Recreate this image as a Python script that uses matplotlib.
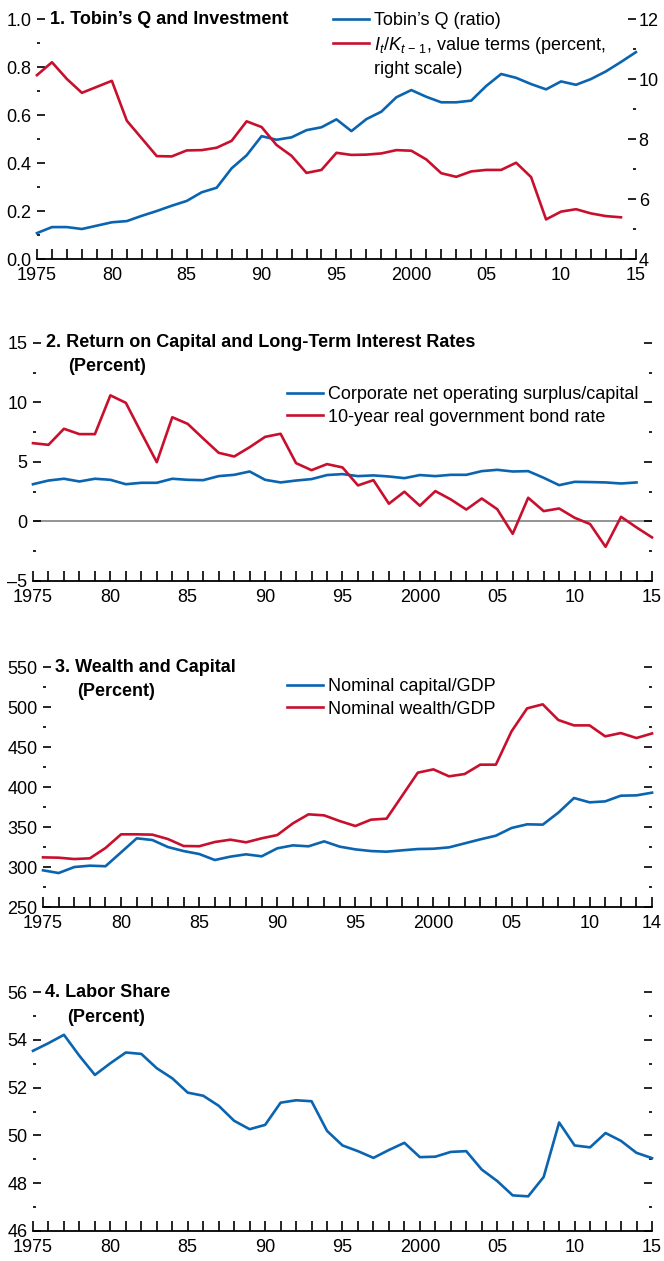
import matplotlib
matplotlib.use("Agg")
import matplotlib.pyplot as plt
from matplotlib.lines import Line2D
from matplotlib.ticker import MultipleLocator, FixedLocator, FixedFormatter

plt.rcParams["font.family"] = ["Liberation Sans", "DejaVu Sans"]
plt.rcParams["mathtext.fontset"] = "custom"
plt.rcParams["mathtext.it"] = "Liberation Sans:italic"
plt.rcParams["mathtext.rm"] = "Liberation Sans"

BLUE = "#0b64b0"
RED = "#c8102e"
FS = 13

years = list(range(1975, 2016))
years_14 = list(range(1975, 2015))

# Panel 1
tobins_q = [0.108, 0.133, 0.133, 0.125, 0.139, 0.153, 0.158, 0.18, 0.20, 0.222,
            0.242, 0.278, 0.297, 0.378, 0.432, 0.512, 0.497, 0.507, 0.537, 0.549,
            0.582, 0.533, 0.583, 0.614, 0.674, 0.704, 0.676, 0.653, 0.653, 0.66,
            0.721, 0.771, 0.755, 0.729, 0.707, 0.74, 0.726, 0.75, 0.782, 0.821,
            0.862]
invest_rate = [10.13, 10.56, 10.0, 9.54, 9.74, 9.94, 8.61, 8.02, 7.43, 7.42,
               7.62, 7.63, 7.71, 7.94, 8.59, 8.4, 7.8, 7.44, 6.87, 6.97,
               7.54, 7.47, 7.48, 7.52, 7.63, 7.61, 7.32, 6.86, 6.74, 6.92,
               6.97, 6.97, 7.21, 6.73, 5.32, 5.58, 5.66, 5.52, 5.43, 5.39]

# Panel 2
return_capital = [3.13, 3.44, 3.59, 3.36, 3.59, 3.5, 3.13, 3.25, 3.25, 3.59,
                  3.5, 3.47, 3.81, 3.92, 4.2, 3.5, 3.28, 3.44, 3.56, 3.9,
                  3.98, 3.81, 3.87, 3.78, 3.64, 3.9, 3.81, 3.92, 3.92, 4.23,
                  4.34, 4.2, 4.23, 3.67, 3.05, 3.33, 3.31, 3.28, 3.19, 3.28]
bond_rate = [6.58, 6.44, 7.79, 7.34, 7.34, 10.6, 9.97, 7.45, 4.98, 8.76,
             8.2, 6.97, 5.77, 5.46, 6.24, 7.11, 7.37, 4.9, 4.31, 4.82,
             4.54, 3.03, 3.47, 1.49, 2.5, 1.32, 2.55, 1.85, 1.0, 1.93,
             1.03, -1.04, 1.99, 0.87, 1.09, 0.31, -0.22, -2.13, 0.39, -0.5,
             -1.34]

# Panel 3
capital_gdp = [295.9, 292.5, 300.0, 301.7, 301.0, 318.4, 335.9, 333.8, 325.0, 320.0,
               316.3, 308.8, 313.0, 315.9, 313.4, 323.4, 327.1, 325.9, 332.1, 325.5,
               322.1, 320.0, 319.2, 320.9, 322.5, 322.9, 324.6, 329.6, 334.6, 339.2,
               348.8, 353.4, 353.0, 368.0, 386.3, 380.9, 382.1, 389.2, 389.6, 393.0]
wealth_gdp = [312.1, 311.7, 310.0, 310.9, 323.8, 340.9, 340.9, 340.5, 335.0, 326.3,
              326.0, 331.3, 334.2, 330.9, 335.9, 340.0, 354.6, 365.9, 364.6, 357.5,
              351.3, 359.2, 360.5, 389.2, 418.0, 422.1, 413.4, 416.3, 428.0, 428.0,
              469.6, 498.4, 503.4, 483.8, 477.1, 477.1, 463.4, 467.5, 461.3, 467.0]

# Panel 4
labor_share = [53.54, 53.86, 54.21, 53.33, 52.53, 53.02, 53.47, 53.41, 52.81, 52.39,
               51.79, 51.66, 51.24, 50.61, 50.26, 50.44, 51.37, 51.47, 51.43, 50.19,
               49.58, 49.34, 49.06, 49.39, 49.69, 49.09, 49.11, 49.31, 49.34, 48.57,
               48.09, 47.49, 47.45, 48.26, 50.54, 49.58, 49.5, 50.1, 49.77, 49.27,
               49.05]

xlabels_15 = ["1975", "80", "85", "90", "95", "2000", "05", "10", "15"]
xlabels_14 = ["1975", "80", "85", "90", "95", "2000", "05", "10", "14"]


def style_axis(ax, x_end, xlabels, right_ticks=True):
    for side in ["left", "right", "top"]:
        ax.spines[side].set_visible(False)
    ax.spines["bottom"].set_linewidth(1.3)
    ax.set_xlim(1975, x_end)
    ax.xaxis.set_major_locator(FixedLocator([1975, 1980, 1985, 1990, 1995, 2000, 2005, 2010, x_end]))
    ax.xaxis.set_major_formatter(FixedFormatter(xlabels))
    ax.xaxis.set_minor_locator(MultipleLocator(1))
    ax.tick_params(axis="x", which="both", direction="in", length=7, width=1.2,
                   labelsize=FS, pad=6)
    ax.tick_params(axis="y", which="major", direction="in", length=6, width=1.2,
                   labelsize=FS, pad=4, left=True, right=right_ticks)
    ax.tick_params(axis="y", which="minor", direction="in", length=2.5, width=1.2,
                   left=True, right=right_ticks)


def add_title(ax, line1, line2=None, x1=0.021, x2=0.057, dy=0.1):
    ax.text(x1, 1.0, line1, transform=ax.transAxes, va="center", ha="left",
            fontsize=FS, fontweight="bold")
    if line2:
        ax.text(x2, 1.0 - dy, line2, transform=ax.transAxes, va="center", ha="left",
                fontsize=FS, fontweight="bold")


def add_legend(ax, handles, labels, anchor):
    return ax.legend(handles, labels, loc="upper left", bbox_to_anchor=anchor,
                     frameon=False, fontsize=FS, handlelength=2.0, handletextpad=0.3,
                     borderpad=0, borderaxespad=0, labelspacing=0.32)


fig = plt.figure(figsize=(6.64, 12.61), dpi=100)

# ---- Panel 1 ----
ax1 = fig.add_axes([0.0557, 0.7946, 0.902, 0.1903])
ax1r = ax1.twinx()
l1, = ax1.plot(years, tobins_q, color=BLUE, lw=1.9, clip_on=False)
l2, = ax1r.plot(years_14, invest_rate, color=RED, lw=1.9, clip_on=False)
style_axis(ax1, 2015, xlabels_15, right_ticks=False)
ax1.set_ylim(0, 1.0)
ax1.yaxis.set_major_locator(MultipleLocator(0.2))
ax1.yaxis.set_minor_locator(MultipleLocator(0.1))
ax1.yaxis.set_major_formatter(matplotlib.ticker.FormatStrFormatter("%.1f"))
for side in ["left", "right", "top", "bottom"]:
    ax1r.spines[side].set_visible(False)
ax1r.set_ylim(4, 12)
ax1r.yaxis.set_major_locator(MultipleLocator(2))
ax1r.yaxis.set_minor_locator(MultipleLocator(1))
ax1r.tick_params(axis="y", which="major", direction="in", length=6, width=1.2,
                 labelsize=FS, pad=2)
ax1r.tick_params(axis="y", which="minor", direction="in", length=2.5, width=1.2)
add_title(ax1, "1. Tobin\u2019s Q and Investment")
blank = Line2D([], [], color="none")
add_legend(ax1, [l1, l2, blank],
           ["Tobin\u2019s Q (ratio)",
            r"$I_t/K_{t\,-\,1}$, value terms (percent,",
            "right scale)"],
           (0.494, 1.03))

# ---- Panel 2 ----
ax2 = fig.add_axes([0.0497, 0.5393, 0.9322, 0.1887])
ax2.axhline(0, color="#808080", lw=1.2, zorder=1)
b2, = ax2.plot(years_14, return_capital, color=BLUE, lw=1.9, clip_on=False)
r2, = ax2.plot(years, bond_rate, color=RED, lw=1.9, clip_on=False)
style_axis(ax2, 2015, xlabels_15)
ax2.set_ylim(-5, 15)
ax2.yaxis.set_major_locator(MultipleLocator(5))
ax2.yaxis.set_minor_locator(MultipleLocator(2.5))
ax2.yaxis.set_major_formatter(matplotlib.ticker.FuncFormatter(
    lambda v, p: f"{v:.0f}".replace("-", "\u2013")))
add_title(ax2, "2. Return on Capital and Long-Term Interest Rates", "(Percent)",
          x1=0.021, x2=0.057, dy=0.1)
add_legend(ax2, [b2, r2],
           ["Corporate net operating surplus/capital",
            "10-year real government bond rate"],
           (0.41, 0.82))

# ---- Panel 3 ----
ax3 = fig.add_axes([0.0648, 0.2807, 0.9172, 0.1903])
b3, = ax3.plot(years_14, capital_gdp, color=BLUE, lw=1.9, clip_on=False)
r3, = ax3.plot(years_14, wealth_gdp, color=RED, lw=1.9, clip_on=False)
style_axis(ax3, 2014, xlabels_14)
ax3.set_ylim(250, 550)
ax3.yaxis.set_major_locator(MultipleLocator(50))
ax3.yaxis.set_minor_locator(MultipleLocator(25))
add_title(ax3, "3. Wealth and Capital", "(Percent)", x1=0.0197, x2=0.056, dy=0.1)
add_legend(ax3, [b3, r3], ["Nominal capital/GDP", "Nominal wealth/GDP"],
           (0.40, 0.955))

# ---- Panel 4 ----
ax4 = fig.add_axes([0.0497, 0.0238, 0.9322, 0.1895])
ax4.plot(years, labor_share, color=BLUE, lw=1.9, clip_on=False)
style_axis(ax4, 2015, xlabels_15)
ax4.set_ylim(46, 56)
ax4.yaxis.set_major_locator(MultipleLocator(2))
ax4.yaxis.set_minor_locator(MultipleLocator(1))
add_title(ax4, "4. Labor Share", "(Percent)", x1=0.019, x2=0.055, dy=0.105)

fig.savefig("out.png", dpi=100, facecolor="white")
plt.close(fig)
